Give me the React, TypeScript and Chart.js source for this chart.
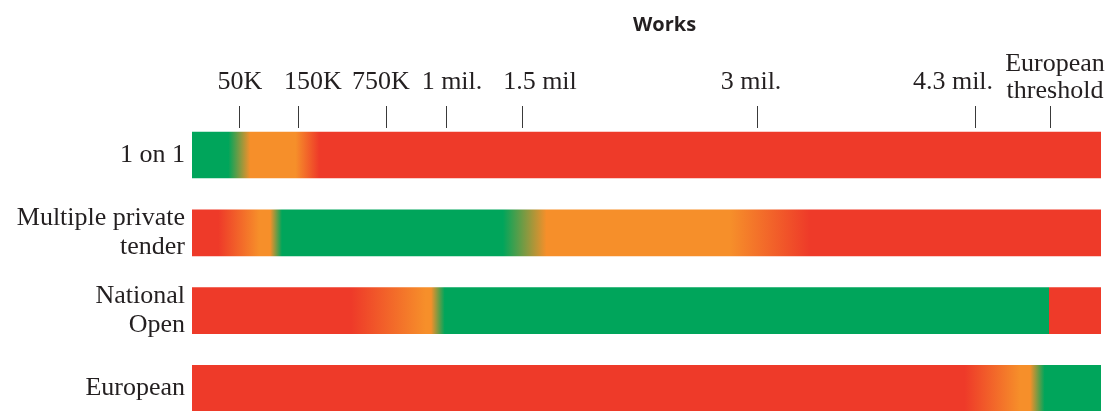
import React, { useEffect, useRef } from "react";
import { Chart, registerables } from "chart.js";

Chart.register(...registerables);

// Row categories (top to bottom)
const categories: (string | string[])[] = [
  "1 on 1",
  ["Multiple private", "tender"],
  ["National", "Open"],
  "European",
];

// Schematic amount axis (0–100 units): tick positions and labels
const tickValues = [5.28, 11.77, 21.45, 28.05, 36.41, 62.16, 86.14, 94.39];
const tickLabels: (string | string[])[] = [
  "50K", "150K", "750K", "1 mil.", "1.5 mil", "3 mil.", "4.3 mil.", ["European", "threshold"],
];

// Colour stops per row: [axis value, status] (G = allowed, O = borderline, R = not allowed)
const oneOnOneStops: [number, string][] = [
  [0, "G"], [4.0, "G"], [6.4, "O"], [11.4, "O"], [14.0, "R"], [100, "R"],
];
const multiplePrivateStops: [number, string][] = [
  [0, "R"], [2.9, "R"], [7.4, "O"], [8.6, "O"], [9.9, "G"], [34.2, "G"],
  [39.0, "O"], [59.2, "O"], [68.0, "R"], [100, "R"],
];
const nationalOpenStops: [number, string][] = [
  [0, "R"], [17.5, "R"], [25.7, "O"], [26.3, "O"], [27.8, "G"], [94.3, "G"],
  [94.3, "R"], [100, "R"],
];
const europeanStops: [number, string][] = [
  [0, "R"], [85.0, "R"], [91.1, "O"], [92.2, "O"], [93.8, "G"], [100, "G"],
];
const rowStops = [oneOnOneStops, multiplePrivateStops, nationalOpenStops, europeanStops];
const rowExtent = [100, 100, 100, 100];

// Styling (not data)
const statusColor: Record<string, string> = { G: "#00a55b", O: "#f68f2a", R: "#ee3a29" };
const TEXT = "#231f20";
const SERIF = "'Liberation Serif', 'DejaVu Serif', serif";
const LABEL_NUDGE = [0, 14, -6, 5, 17, -6, -22, 5];

function makeGradient(chart: any, stops: [number, string][]) {
  const { ctx, chartArea, scales } = chart;
  const x = scales?.x;
  if (!chartArea || !x) return statusColor[stops[0][1]];
  const x0 = x.getPixelForValue(0);
  const x1 = x.getPixelForValue(100);
  const g = ctx.createLinearGradient(x0, 0, x1, 0);
  stops.forEach(([v, s]) => {
    const t = Math.min(1, Math.max(0, (x.getPixelForValue(v) - x0) / (x1 - x0)));
    g.addColorStop(t, statusColor[s]);
  });
  return g;
}

const headerPlugin = {
  id: "header",
  afterDraw(chart: any) {
    const { ctx, chartArea, scales } = chart;
    const x = scales.x;
    ctx.save();
    // Title
    ctx.font = "bold 20px 'Open Sans', 'Noto Sans', sans-serif";
    ctx.fillStyle = TEXT;
    ctx.textAlign = "center";
    ctx.textBaseline = "alphabetic";
    ctx.fillText("Works", (chartArea.left + chartArea.right) / 2 + 18, 31);
    // Tick labels
    ctx.font = `26px ${SERIF}`;
    tickValues.forEach((v, i) => {
      const label = tickLabels[i];
      const lines = Array.isArray(label) ? label : [label];
      const px = x.getPixelForValue(v) + (LABEL_NUDGE[i] || 0);
      const lastBase = lines.length > 1 ? 98 : 89;
      lines.forEach((line, k) => {
        ctx.fillText(line, px, lastBase - (lines.length - 1 - k) * 27);
      });
    });
    ctx.restore();
  },
};

export default function App() {
  const canvasRef = useRef<HTMLCanvasElement | null>(null);

  useEffect(() => {
    document.body.style.margin = "0";
    const canvas = canvasRef.current;
    if (!canvas) return;
    const chart = new Chart(canvas, {
      type: "bar",
      data: {
        datasets: [
          {
            data: categories.map((_, i) => ({ y: i, x: rowExtent[i] })) as any,
            backgroundColor: (c: any) => makeGradient(c.chart, rowStops[c.dataIndex] || oneOnOneStops),
            borderWidth: 0,
            barThickness: 46,
          } as any,
        ],
      },
      options: {
        animation: false,
        responsive: true,
        maintainAspectRatio: false,
        indexAxis: "y",
        layout: { padding: { top: 0, right: 11, bottom: 0, left: 0 } },
        plugins: { legend: { display: false }, tooltip: { enabled: false }, title: { display: false } },
        scales: {
          x: {
            type: "linear",
            position: "top",
            min: 0,
            max: 100,
            border: { display: false },
            grid: { drawOnChartArea: false, tickLength: 22, color: "#3a3a3a", lineWidth: 1 },
            ticks: {
              autoSkip: false, maxRotation: 0, minRotation: 0, padding: 0,
              font: { family: SERIF, size: 26 },
              callback: () => "",
            },
            afterBuildTicks: (scale: any) => { scale.ticks = tickValues.map((v) => ({ value: v })); },
            afterFit: (scale: any) => {
              scale.height = 128;
              scale.paddingLeft = 0;
              scale.paddingRight = 0;
            },
          },
          y: {
            type: "linear",
            reverse: true,
            offset: false,
            bounds: "data",
            min: -0.347,
            max: 3.29,
            border: { display: false },
            grid: { display: false, drawTicks: false },
            ticks: {
              padding: 7, color: TEXT,
              font: { family: SERIF, size: 26, lineHeight: 1.12 },
              callback: (v: any) => categories[Math.round(Number(v))] ?? "",
            },
            afterBuildTicks: (scale: any) => { scale.ticks = categories.map((_, i) => ({ value: i })); },
            afterFit: (scale: any) => {
              scale.width = 192;
              scale.paddingTop = 0;
              scale.paddingBottom = 0;
            },
          },
        },
      } as any,
      plugins: [headerPlugin],
    });
    return () => chart.destroy();
  }, []);

  return (
    <div style={{ width: 1112, height: 411, position: "relative", background: "#ffffff" }}>
      <canvas ref={canvasRef} style={{ display: "block" }} />
    </div>
  );
}
